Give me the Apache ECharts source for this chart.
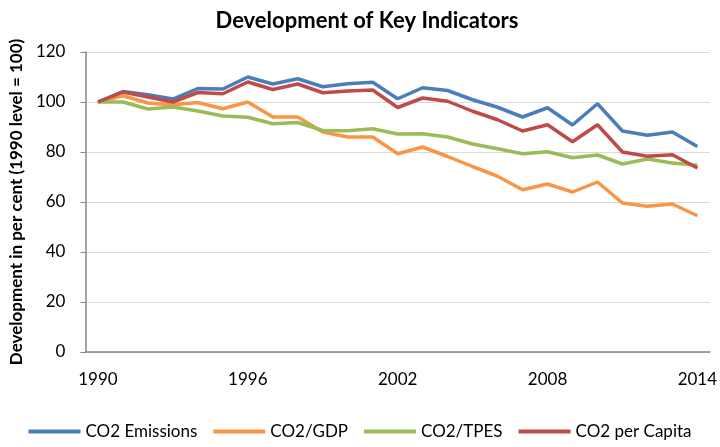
<!DOCTYPE html>
<html><head><meta charset="utf-8">
<script src="https://cdn.jsdelivr.net/npm/echarts@6/dist/echarts.min.js"></script>
<style>html,body{margin:0;padding:0;background:#fff}#c{width:720px;height:447px}</style>
</head><body><div id="c"></div>
<script>
const years = ['1990','1991','1992','1993','1994','1995','1996','1997','1998','1999','2000','2001','2002','2003','2004','2005','2006','2007','2008','2009','2010','2011','2012','2013','2014'];
const co2Emissions = [100,104.2,102.9,101.2,105.4,105.2,110,107.2,109.3,106.1,107.3,107.9,101.3,105.7,104.6,100.9,97.9,94,97.7,90.8,99.3,88.4,86.7,88,82.2];
const co2Gdp = [100,102.5,99.6,98.9,99.8,97.3,100,94,94,88,86,86,79.3,82,78.2,74.2,70.3,64.9,67.2,64,68,59.6,58.3,59.2,54.5];
const co2Tpes = [100,100,97.2,98,96.4,94.4,93.9,91.3,91.8,88.6,88.5,89.3,87.2,87.3,86,83.2,81.3,79.3,80.1,77.7,78.8,75.2,77.2,75.6,74.7];
const co2PerCapita = [100,104,102,100,103.8,103.3,108,105,107.2,103.7,104.4,104.8,97.8,101.6,100.3,96.3,92.9,88.4,90.9,84.1,90.9,80,78.3,78.9,73.6];
const yTicks = {min:0, max:120, interval:20};

const font = 'Lato';
const chart = echarts.init(document.getElementById('c'));
function s(name, data, color){
  return {name, type:'line', data, symbol:'none', smooth:false,
    lineStyle:{width:3.5, color}, itemStyle:{color}};
}
chart.setOption({
  animation:false,
  textStyle:{fontFamily:font},
  title:{text:'Development of Key Indicators', left:362, textAlign:'center', top:5,
    textStyle:{fontFamily:font, fontSize:22, fontWeight:'bold', color:'#000'}},
  grid:{left:83, right:8, top:52, bottom:95},
  legend:{bottom:2, left:'center', icon:'rect', itemWidth:52, itemHeight:4, itemGap:16,
    textStyle:{fontFamily:font, fontSize:17, color:'#000'}},
  xAxis:{type:'category', data:years, boundaryGap:true,
    axisLine:{lineStyle:{color:'#868686', width:1.5}},
    axisTick:{interval:0, length:5, lineStyle:{color:'#868686'}},
    axisLabel:{interval:5, margin:19, fontFamily:font, fontSize:17, color:'#000'}},
  yAxis:{type:'value', min:yTicks.min, max:yTicks.max, interval:yTicks.interval,
    name:'Development in per cent (1990 level = 100)', nameLocation:'middle', nameGap:56,
    nameTextStyle:{fontFamily:font, fontSize:17, fontWeight:'bold', color:'#000'},
    axisLine:{show:true, lineStyle:{color:'#868686', width:1.5}},
    axisTick:{show:true, length:5, lineStyle:{color:'#868686'}},
    splitLine:{lineStyle:{color:'#d9d9d9', width:1}},
    axisLabel:{margin:20, fontFamily:font, fontSize:17, color:'#000'}},
  series:[
    s('CO2 Emissions', co2Emissions, '#4a7ebb'),
    s('CO2/GDP', co2Gdp, '#f79646'),
    s('CO2/TPES', co2Tpes, '#9bbb59'),
    s('CO2 per Capita', co2PerCapita, '#be4b48')
  ]
});
</script></body></html>
